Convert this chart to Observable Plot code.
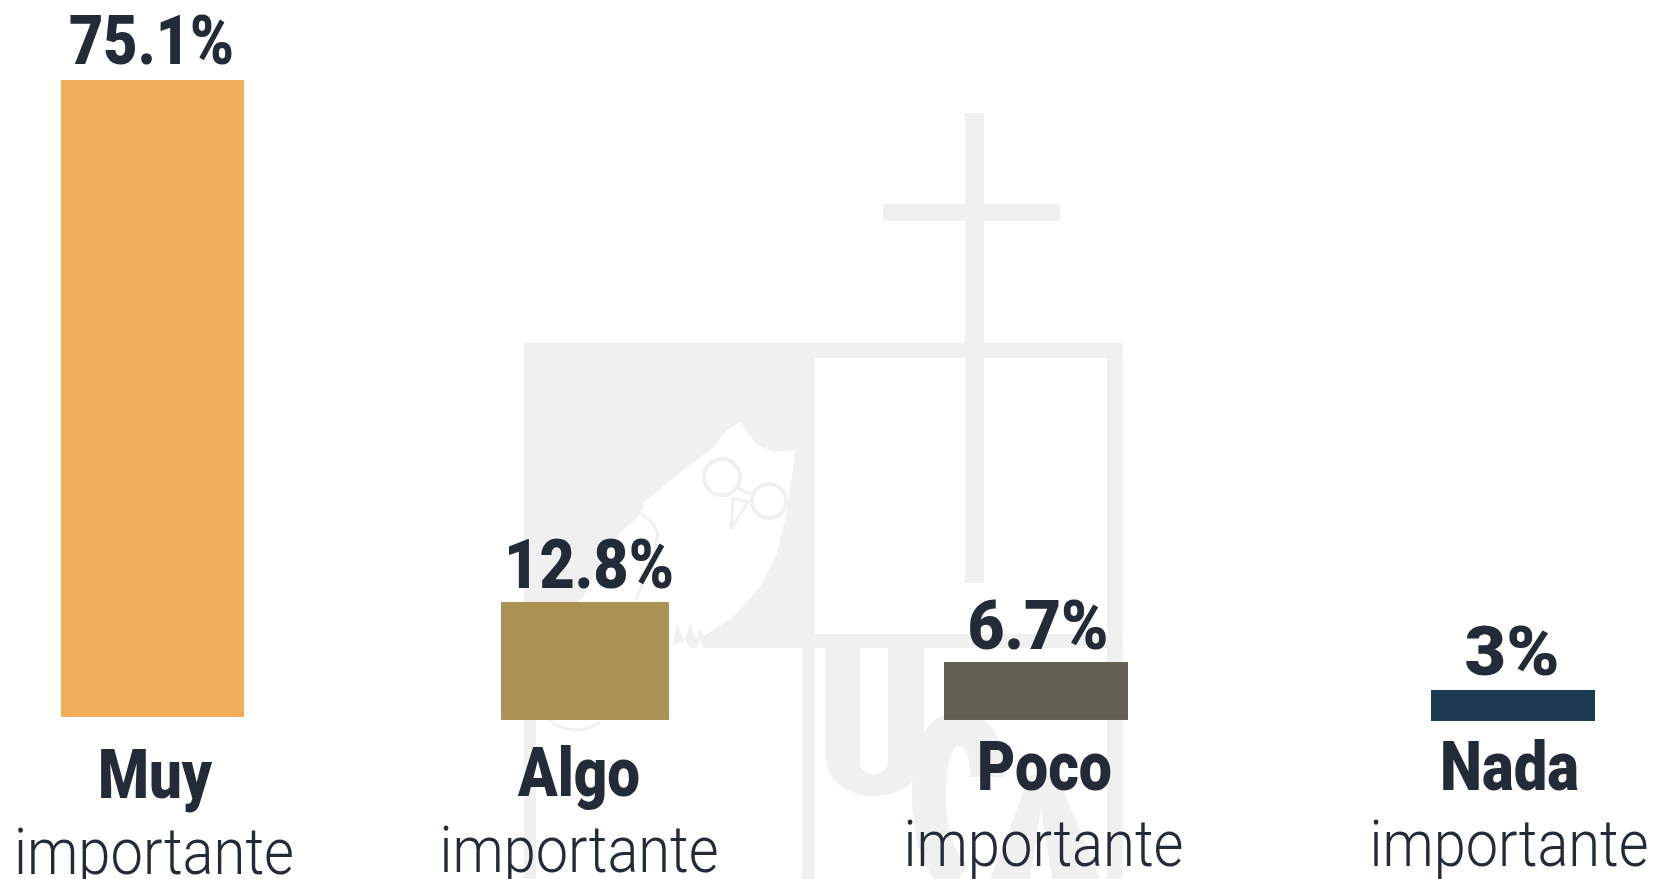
<!DOCTYPE html>
<html lang="es">
<head>
<meta charset="utf-8">
<title>Importancia</title>
<script src="https://cdn.jsdelivr.net/npm/d3@7"></script>
<script src="https://cdn.jsdelivr.net/npm/@observablehq/plot@0.6"></script>
<style>
  html, body { margin: 0; padding: 0; background: #fff; overflow: hidden; }
  #stage { position: relative; width: 1653px; height: 879px; overflow: hidden; }
  #stage svg { position: absolute; left: 0; top: 0; display: block; }
</style>
</head>
<body>
<div id="stage">
  <!-- Decorative watermark (university crest), not data -->
  <svg id="crest" width="1653" height="879" viewBox="0 0 1653 879" aria-hidden="true">
    <g fill="#f0f0f0">
      <rect x="965" y="113" width="19" height="470"/>
      <rect x="883" y="204" width="177" height="17"/>
      <rect x="524" y="343" width="291" height="305"/>
      <rect x="815" y="343" width="307.5" height="15"/>
      <rect x="815" y="634" width="307.5" height="14"/>
      <rect x="1107" y="343" width="15.5" height="536"/>
      <rect x="524" y="640" width="12" height="239"/>
      <rect x="802" y="640" width="13" height="239"/>
      <path d="M825 648H860V760C860 770 866 774 873 774C881 774 888 770 888 760V648H924V752C924 780 902 796 873 796C846 796 825 780 825 752Z"/>
      <path d="M990 879L1030 775H1057L1100 879H1052L1041 808L1030 879Z"/>
    </g>
    <path d="M987 777C987 745 978 729 958 729C938 729 930 755 929 790C928 825 935 860 958 879" fill="none" stroke="#f0f0f0" stroke-width="34"/>
    <!-- owl silhouette -->
    <path fill="#fff" d="M740 422L748 433L757 445L773 452L795 450L792 477L785 520L777 553L760 587L733 617L704 636L700 628L696 640L690 624L685 640L677 624L672 650L668 664L600 720L524 720L540 640L583 597L600 563L620 533L638 517L643 508L643 503L687 467L713 448L727 430Z"/>
    <path fill="#fff" d="M668 648L686 640L693 655L700 638L703 648Z"/>
    <g fill="none" stroke="#f0f0f0">
      <circle cx="722" cy="477" r="18" stroke-width="4"/>
      <circle cx="769" cy="501" r="17" stroke-width="4"/>
      <path d="M738 488L745 492L753 494" stroke-width="3"/>
      <path d="M733 498L748 502L731 529Z" stroke-width="3"/>
      <path d="M641 514L653 523L658 535L648 570L636 600" stroke-width="3"/>
      <path d="M549 720C562 732 585 733 600 722" stroke-width="3"/>
    </g>
  </svg>
</div>
<script>
// Chart data
const categories = ["Muy", "Algo", "Poco", "Nada"];
const qualifier = "importante";
const values = [75.1, 12.8, 6.7, 3];
const valueLabels = ["75.1%", "12.8%", "6.7%", "3%"];
// The original graphic's bars are hand-placed: tops and bases, in percent units, as measured on it
const barTops = [75.1, 13.56, 6.48, 3.18];
const barBases = [0, -0.35, -0.35, -0.47];
const colors = ["#F1AF5B", "#AA9352", "#635F52", "#1C3A50"];

// Layout, kept apart from the data
const xEdges = [61, 244, 501, 669, 944, 1128, 1431, 1595];
const valueDx = [-1.5, 3.5, 1.5, -1.5];
const valueDy = [-17, -14.5, -14, -16];
const nameDx = [2, -6.5, 8, -4];
const nameDy = [80, 78, 72, 72];
const qualDx = [1, -6.5, 7, -4.5];
const qualDy = [156, 154, 148, 148];
const valueWidths = [165, 170, 141, 95];
const nameWidths = [114, 122, 135, 139];
const qualWidths = [280, 279, 280, 279];

const rows = categories.map((name, i) => ({
  name, i, value: values[i], label: valueLabels[i],
  top: barTops[i], base: barBases[i], color: colors[i],
  left: i * 2, right: i * 2 + 1, center: i * 2 + 0.5
}));

const ink = "#222b37";
const font = "Roboto, 'Liberation Sans', sans-serif";

const plot = Plot.plot({
  width: 1653,
  height: 879,
  margin: 0,
  style: { background: "transparent", overflow: "visible" },
  x: { type: "linear", domain: xEdges.map((_, k) => k), range: xEdges, axis: null },
  y: { domain: [0, 75.1], range: [717, 80], axis: null },
  marks: [
    Plot.rect(rows, { x1: "left", x2: "right", y1: "base", y2: "top", fill: d => d.color }),
    ...rows.flatMap((d, i) => [
      Plot.text([d], {
        x: "center", y: "top", text: "label", dx: valueDx[i], dy: valueDy[i],
        lineAnchor: "bottom", textAnchor: "middle", fill: ink,
        fontFamily: font, fontWeight: 900, fontSize: 68, className: "lbl-value"
      }),
      Plot.text([d], {
        x: "center", y: () => 0, text: "name", dx: nameDx[i], dy: nameDy[i],
        lineAnchor: "bottom", textAnchor: "middle", fill: ink,
        fontFamily: font, fontWeight: 900, fontSize: 68, className: "lbl-name"
      }),
      Plot.text([d], {
        x: "center", y: () => 0, text: () => qualifier, dx: qualDx[i], dy: qualDy[i],
        lineAnchor: "bottom", textAnchor: "middle", fill: ink,
        fontFamily: font, fontWeight: 300, fontSize: 65, className: "lbl-qual"
      })
    ])
  ]
});
document.getElementById("stage").appendChild(plot);

// Squeeze the text to the reference's condensed widths
function fit(cls, widths) {
  plot.querySelectorAll(`.${cls} text`).forEach((t, i) => {
    t.setAttribute("textLength", widths[i]);
    t.setAttribute("lengthAdjust", "spacingAndGlyphs");
  });
}
fit("lbl-value", valueWidths);
fit("lbl-name", nameWidths);
fit("lbl-qual", qualWidths);
</script>
</body>
</html>
